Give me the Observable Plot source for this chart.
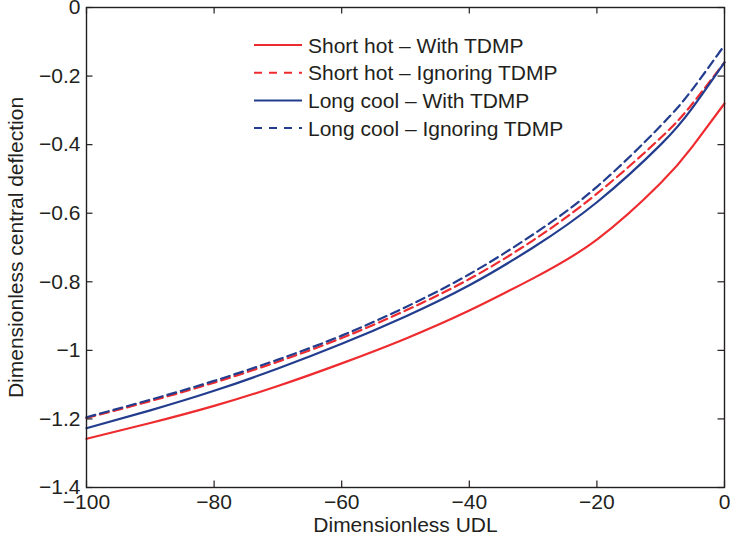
<!DOCTYPE html>
<html>
<head>
<meta charset="utf-8">
<script src="https://cdn.jsdelivr.net/npm/d3@7"></script>
<script src="https://cdn.jsdelivr.net/npm/@observablehq/plot@0.6"></script>
<style>
  html, body { margin: 0; padding: 0; background: #fff; }
  #chart { width: 730px; height: 546px; }
</style>
</head>
<body>
<div id="chart"></div>
<script>
// ---- data ----
const udl = [-100, -90, -80, -70, -60, -50, -40, -30, -20, -10, -5, 0];
const shortHotWith   = [-1.258, -1.212, -1.162, -1.104, -1.038, -0.966, -0.884, -0.790, -0.677, -0.512, -0.405, -0.280];
const shortHotIgnore = [-1.197, -1.148, -1.094, -1.033, -0.964, -0.884, -0.792, -0.679, -0.543, -0.380, -0.280, -0.160];
const longCoolWith   = [-1.227, -1.175, -1.118, -1.053, -0.981, -0.901, -0.810, -0.700, -0.568, -0.400, -0.292, -0.160];
const longCoolIgnore = [-1.195, -1.144, -1.089, -1.027, -0.957, -0.874, -0.778, -0.662, -0.523, -0.345, -0.238, -0.110];

const seriesNames = ["Short hot \u2013 With TDMP", "Short hot \u2013 Ignoring TDMP", "Long cool \u2013 With TDMP", "Long cool \u2013 Ignoring TDMP"];
const seriesValues = [shortHotWith, shortHotIgnore, longCoolWith, longCoolIgnore];
const seriesColors = ["#ee2b2f", "#ee2b2f", "#233d8e", "#233d8e"];
const seriesDashed = [false, true, false, true];

const xTicks = [-100, -80, -60, -40, -20, 0];
const yTicks = [0, -0.2, -0.4, -0.6, -0.8, -1, -1.2, -1.4];
const xLabel = "Dimensionless UDL";
const yLabel = "Dimensionless central deflection";

// ---- build table ----
const rows = [];
seriesNames.forEach((name, i) => {
  udl.forEach((x, j) => rows.push({series: name, idx: i, x, y: seriesValues[i][j]}));
});

const W = 730, H = 546, mL = 86, mR = 6, mT = 7, mB = 59;
const fw = W - mL - mR, fh = H - mT - mB;
const tick = 6.5;
const minus = v => (v < 0 ? "\u2212" : "") + Math.abs(v);

const lineMarks = seriesNames.map((name, i) =>
  Plot.line(rows.filter(r => r.idx === i), {
    x: "x", y: "y", stroke: seriesColors[i], strokeWidth: 2.2,
    strokeDasharray: seriesDashed[i] ? "9,5" : null, curve: "natural"
  })
);

const chart = Plot.plot({
  width: W, height: H,
  marginLeft: mL, marginRight: mR, marginTop: mT, marginBottom: mB,
  style: {fontFamily: "'Liberation Sans', Arial, sans-serif", fontSize: "21px", color: "#231f20", background: "#fff"},
  x: {domain: [-100, 0]},
  y: {domain: [-1.4, 0]},
  marks: [
    Plot.axisX(xTicks, {tickSize: 0, tickPadding: 7, tickFormat: minus, label: xLabel, labelAnchor: "center", labelArrow: "none", labelOffset: 44}),
    Plot.axisY(yTicks, {tickSize: 0, tickPadding: 6, tickFormat: minus, label: yLabel, labelAnchor: "center", labelArrow: "none", labelOffset: 78}),
    ...lineMarks,
    Plot.ruleX(xTicks, {x: d => d, insetTop: fh - tick, stroke: "#231f20", strokeWidth: 1.2}),
    Plot.ruleX(xTicks, {x: d => d, insetBottom: fh - tick, stroke: "#231f20", strokeWidth: 1.2}),
    Plot.ruleY(yTicks, {y: d => d, insetRight: fw - tick, stroke: "#231f20", strokeWidth: 1.2}),
    Plot.ruleY(yTicks, {y: d => d, insetLeft: fw - tick, stroke: "#231f20", strokeWidth: 1.2}),
    Plot.frame({stroke: "#231f20", strokeWidth: 1.4})
  ]
});
document.getElementById("chart").appendChild(chart);

// ---- legend inside the plot area ----
const svg = d3.select(chart);
const lg = svg.append("g").attr("class", "legend").attr("text-anchor", "start");
seriesNames.forEach((name, i) => {
  const cy = 45 + i * 27.7;
  lg.append("line")
    .attr("x1", 254).attr("x2", 302).attr("y1", cy).attr("y2", cy)
    .attr("stroke", seriesColors[i]).attr("stroke-width", 2)
    .attr("stroke-dasharray", seriesDashed[i] ? "8,7" : null);
  lg.append("text")
    .attr("x", 308).attr("y", cy).attr("dy", "0.36em")
    .attr("text-anchor", "start")
    .attr("fill", "#231f20")
    .attr("font-size", 21)
    .text(name);
});
</script>
</body>
</html>
